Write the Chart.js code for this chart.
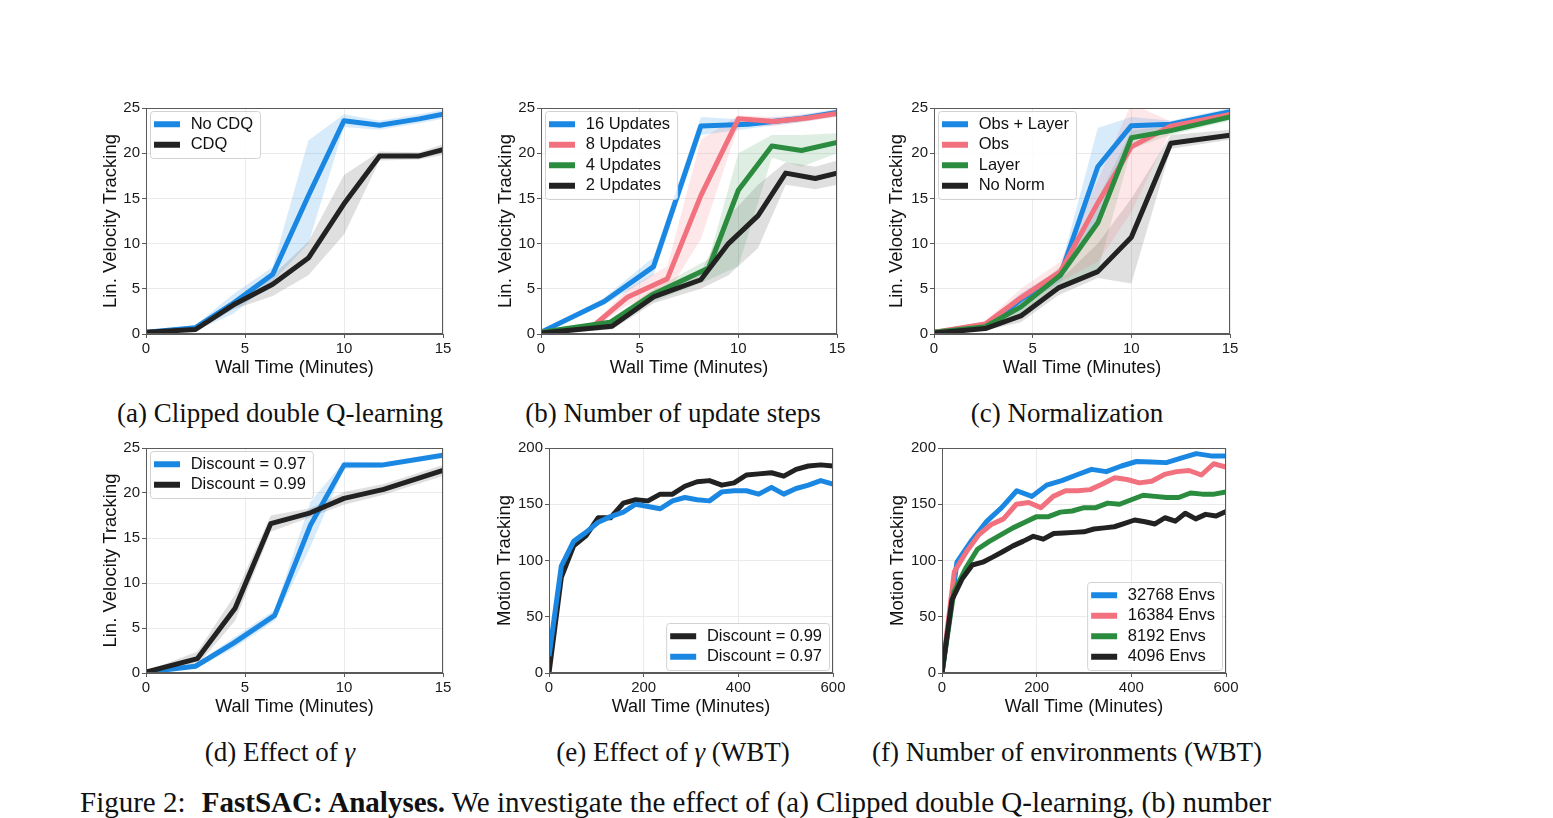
<!DOCTYPE html>
<html>
<head>
<meta charset="utf-8">
<script src="https://cdn.jsdelivr.net/npm/chart.js@4.4.1/dist/chart.umd.min.js"></script>
<style>
  body { margin: 0; background: #fff; }
  #page { position: relative; width: 1553px; height: 818px; overflow: hidden; background: #fff; }
  canvas { position: absolute; }
  .cap {
    position: absolute; transform: translate(-50%, -50%);
    font: 27px "Liberation Serif", "Times New Roman", serif;
    line-height: 1; white-space: nowrap; color: #111;
  }
  #fig {
    position: absolute; left: 80px; top: 788px;
    font: 29px "Liberation Serif", "Times New Roman", serif;
    line-height: 29px; white-space: nowrap; color: #111;
  }
  #fig .lead { margin-right: 9px; }
</style>
</head>
<body>
<div id="page">
  <canvas id="ca"></canvas>
  <canvas id="cb"></canvas>
  <canvas id="cc"></canvas>
  <canvas id="cd"></canvas>
  <canvas id="ce"></canvas>
  <canvas id="cf"></canvas>
  <div class="cap" style="left:280px;top:413px">(a) Clipped double Q-learning</div>
  <div class="cap" style="left:673px;top:413px">(b) Number of update steps</div>
  <div class="cap" style="left:1067px;top:413px">(c) Normalization</div>
  <div class="cap" style="left:280px;top:752px">(d) Effect of <i>γ</i></div>
  <div class="cap" style="left:673px;top:752px">(e) Effect of <i>γ</i> (WBT)</div>
  <div class="cap" style="left:1067px;top:752px">(f) Number of environments (WBT)</div>
  <div id="fig"><span class="lead">Figure 2:</span> <b>FastSAC: Analyses.</b> We investigate the effect of (a) Clipped double Q-learning, (b) number</div>
</div>
<script>
// ---- data ----
// (a) clipped double Q
const aX = [0, 2.5, 4.4, 6.4, 8.2, 10.0, 11.8, 13.8, 15];
const aNoCdq = [0.2, 0.7, 3.4, 6.6, 15.3, 23.6, 23.1, 23.8, 24.3];
const aNoCdqHi = [0.3, 1.0, 4.4, 7.4, 21.4, 24.3, 23.6, 24.3, 24.8];
const aNoCdqLo = [0.1, 0.4, 2.2, 5.8, 10.0, 22.9, 22.6, 23.3, 23.8];
const aCdq = [0.2, 0.5, 3.2, 5.5, 8.4, 14.4, 19.7, 19.7, 20.4];
const aCdqHi = [0.3, 0.7, 3.6, 6.5, 10.2, 17.6, 20.2, 20.1, 21.0];
const aCdqLo = [0.1, 0.3, 2.7, 4.2, 6.5, 11.0, 19.2, 19.3, 19.8];

// (b) update steps
const b16X = [0, 3.2, 5.7, 8.1, 10.5, 13.0, 15];
const b16 = [0.2, 3.6, 7.45, 23.0, 23.2, 23.8, 24.5];
const b16Hi = [0.3, 4.0, 8.5, 24.0, 23.7, 24.2, 24.9];
const b16Lo = [0.1, 3.2, 6.5, 22.0, 22.7, 23.4, 24.1];
const b8X = [0, 2.6, 4.4, 6.4, 8.1, 10.0, 11.8, 13.5, 15];
const b8 = [0.2, 0.8, 4.1, 6.1, 15.3, 23.8, 23.5, 23.9, 24.4];
const b8Hi = [0.3, 1.0, 5.0, 7.5, 21.5, 24.2, 24.0, 24.3, 24.8];
const b8Lo = [0.1, 0.6, 3.2, 4.5, 10.5, 23.0, 23.0, 23.5, 24.0];
const b4X = [0, 3.5, 5.6, 8.5, 10.0, 11.7, 13.2, 15];
const b4 = [0.2, 1.3, 4.3, 7.3, 15.9, 20.8, 20.3, 21.2];
const b4Hi = [0.3, 1.6, 4.8, 8.3, 20.0, 22.0, 22.0, 22.2];
const b4Lo = [0.1, 1.0, 3.5, 6.0, 7.5, 19.5, 18.5, 20.0];
const b2X = [0, 3.6, 5.7, 8.1, 9.5, 11.0, 12.4, 13.9, 15];
const b2 = [0.1, 0.85, 4.1, 6.0, 10.0, 13.1, 17.8, 17.2, 17.8];
const b2Hi = [0.2, 1.2, 4.8, 6.8, 13.0, 16.5, 19.0, 18.5, 19.2];
const b2Lo = [0.0, 0.5, 3.4, 5.0, 6.5, 9.5, 16.5, 16.0, 16.5];

// (c) normalization
const cX = [0, 2.6, 4.4, 6.4, 8.3, 10.0, 12.0, 15];
const cObsLayer = [0.2, 0.8, 3.8, 6.5, 18.5, 23.05, 23.2, 24.6];
const cObsLayerHi = [0.3, 1.1, 4.5, 7.2, 22.8, 24.0, 23.6, 25.0];
const cObsLayerLo = [0.1, 0.5, 3.0, 5.8, 12.0, 22.0, 22.8, 24.2];
const cObs = [0.2, 1.1, 4.0, 6.9, 14.5, 20.7, 23.0, 24.3];
const cObsHi = [0.3, 1.4, 5.0, 8.0, 17.0, 25.5, 23.5, 24.7];
const cObsLo = [0.1, 0.8, 3.0, 5.8, 8.0, 13.5, 22.5, 23.9];
const cLayer = [0.2, 0.8, 3.0, 6.5, 12.3, 21.7, 22.5, 24.0];
const cLayerHi = [0.3, 1.1, 3.8, 7.5, 15.0, 22.5, 23.0, 24.4];
const cLayerLo = [0.1, 0.5, 2.2, 5.5, 7.0, 20.5, 22.0, 23.6];
const cNoNormX = [0, 2.6, 4.4, 6.3, 8.3, 10.0, 12.0, 15];
const cNoNorm = [0.1, 0.6, 2.0, 5.1, 6.9, 10.7, 21.1, 22.0];
const cNoNormHi = [0.2, 0.9, 2.8, 5.8, 10.0, 15.0, 22.0, 22.6];
const cNoNormLo = [0.0, 0.4, 1.3, 4.3, 6.2, 5.6, 20.5, 21.5];

// (d) discount
const d97X = [0, 2.5, 4.4, 6.5, 8.3, 10.0, 11.9, 15];
const d97 = [0.1, 0.75, 3.3, 6.4, 16.4, 23.1, 23.1, 24.2];
const d97Hi = [0.2, 1.0, 3.9, 7.0, 19.0, 23.5, 23.4, 24.5];
const d97Lo = [0.0, 0.5, 2.7, 5.8, 14.0, 22.7, 22.8, 23.9];
const d99X = [0, 2.6, 4.5, 6.3, 8.3, 10.0, 12.0, 15];
const d99 = [0.1, 1.6, 7.2, 16.6, 17.8, 19.4, 20.4, 22.5];
const d99Hi = [0.2, 2.4, 8.7, 17.5, 18.3, 20.1, 21.0, 23.1];
const d99Lo = [0.0, 0.9, 5.8, 15.7, 17.3, 18.7, 19.8, 21.9];

// (e) discount, WBT
const eX = [0, 26, 52, 78, 104, 130, 157, 183, 209, 235, 261, 287, 313, 339, 365, 391, 417, 443, 470, 496, 522, 548, 574, 600];
const e99 = [0, 85, 113, 122, 138, 138, 151, 154, 153, 159, 159, 166, 170, 171, 167, 169, 176, 177, 178, 175, 181, 184, 185, 184];
const e97 = [15, 95, 117, 125, 134, 139, 143, 150, 148, 146, 153, 156, 154, 153, 161, 162, 162, 159, 165, 159, 164, 167, 171, 168];

// (f) number of envs, WBT
const f32768X = [0, 31.6, 63, 95, 126, 158, 190, 221, 253, 284, 316, 347, 379, 411, 442, 474, 505, 537, 568, 600];
const f32768 = [0, 98.5, 118, 135, 147, 162, 157, 167, 171, 176, 181, 179, 184, 188, 187.5, 187, 191, 195, 193, 193];
const f16384X = [0, 26, 52, 78, 104, 130, 157, 183, 209, 235, 261, 287, 313, 339, 365, 391, 417, 443, 470, 496, 522, 548, 574, 600];
const f16384 = [0, 90, 108, 123, 132, 137, 150, 151.5, 147, 157, 162, 162, 163, 168, 173.5, 172, 169, 170.5, 176.5, 179, 180, 176, 186, 183];
const f8192X = [0, 25, 50, 75, 100, 125, 150, 175, 200, 225, 250, 275, 300, 325, 350, 375, 400, 425, 450, 475, 500, 525, 550, 575, 600];
const f8192 = [0, 72, 93, 110, 117, 123, 129, 134, 139, 139, 143, 144, 147, 147, 151, 150, 154, 158, 157, 156, 156, 160, 159, 159, 161];
const f4096X = [0, 21, 43, 64, 86, 107, 129, 150, 171, 193, 214, 236, 257, 279, 300, 321, 343, 364, 386, 407, 429, 450, 471, 493, 514, 536, 557, 579, 600];
const f4096 = [0, 65, 84, 96, 98.5, 103, 108, 113, 117, 121.5, 119, 124, 124.5, 125, 125.5, 128, 129, 130, 133, 136, 134.5, 132.5, 138, 135, 142, 137, 141, 139.5, 143.5];

const linTicks = [0, 5, 10, 15, 20, 25];
const motionTicks = [0, 50, 100, 150, 200];
const minTicks = [0, 5, 10, 15];
const wbtTicks = [0, 200, 400, 600];

// ---- styling ----
const BLUE = "#1a88e3";
const PINK = "#f2717f";
const GREEN = "#2b8c3f";
const BLACK = "#222222";
const BAND = {
  [BLUE]: "rgba(26,136,227,0.17)",
  [PINK]: "rgba(242,113,127,0.17)",
  [GREEN]: "rgba(43,140,63,0.15)",
  [BLACK]: "rgba(40,40,40,0.15)",
};

Chart.defaults.font.family = '"Liberation Sans", Arial, sans-serif';
Chart.defaults.color = "#1a1a1a";

const pts = (xs, ys) => xs.map((x, i) => ({ x: x, y: ys[i] }));

const framePlugin = {
  id: "frame",
  afterDatasetsDraw(chart, args, opts) {
    const { ctx, chartArea: a } = chart;
    ctx.save();
    ctx.strokeStyle = "#5a5a5a";
    ctx.lineWidth = 1;
    ctx.strokeRect(a.left + 0.5, a.top + 0.5, a.right - a.left - 1, a.bottom - a.top - 1);

    // legend box, matplotlib style
    const items = chart.data.datasets.filter((d) => d.label && !d.band);
    ctx.font = '16.5px "Liberation Sans", Arial, sans-serif';
    const rowH = 20.5, pad = 3;
    const textW = Math.max(...items.map((d) => ctx.measureText(d.label).width));
    const w = 40.7 + textW + 7;
    const h = items.length * rowH + 2 * pad;
    let x = a.left + 4, y = a.top + 3;
    if (opts.corner === "br") {
      x = a.right - 4 - w;
      y = a.bottom - 3 - h;
    }
    ctx.beginPath();
    ctx.roundRect(x + 0.5, y + 0.5, w, h, 3);
    ctx.fillStyle = "rgba(255,255,255,0.85)";
    ctx.fill();
    ctx.strokeStyle = "#d2d2d2";
    ctx.stroke();
    items.forEach((d, i) => {
      const cy = y + pad + rowH * (i + 0.5);
      ctx.strokeStyle = d.borderColor;
      ctx.lineWidth = 6;
      ctx.beginPath();
      ctx.moveTo(x + 4, cy);
      ctx.lineTo(x + 30, cy);
      ctx.stroke();
      ctx.fillStyle = "#111";
      ctx.textBaseline = "middle";
      ctx.fillText(d.label, x + 40.7, cy);
    });
    ctx.restore();
  },
};

function makeChart(id, box, cfg) {
  const canvas = document.getElementById(id);
  const padTop = 10, padRight = 16, bottomH = 49;
  canvas.width = box.leftW + box.w + padRight;
  canvas.height = padTop + box.h + bottomH;
  canvas.style.left = box.l - box.leftW + "px";
  canvas.style.top = box.t - padTop + "px";

  const n = cfg.series.length;
  const datasets = cfg.series.map((s, i) => ({
    label: s.label,
    data: pts(s.x, s.y),
    borderColor: s.color,
    borderWidth: 5,
    pointRadius: 0,
    tension: 0,
    fill: false,
    borderJoinStyle: "round",
    order: n - i,
  }));
  cfg.series.forEach((s) => {
    if (!s.hi) return;
    datasets.push({
      band: true,
      data: pts(s.x, s.hi),
      borderWidth: 0,
      pointRadius: 0,
      fill: "+1",
      backgroundColor: BAND[s.color],
      order: 100,
    });
    datasets.push({
      band: true,
      data: pts(s.x, s.lo),
      borderWidth: 0,
      pointRadius: 0,
      fill: false,
      order: 100,
    });
  });

  const tickFont = { size: 15 };
  const gridOpts = { color: "#ebebeb", tickColor: "#5a5a5a", tickLength: 4 };
  new Chart(canvas, {
    type: "line",
    data: { datasets: datasets },
    plugins: [framePlugin],
    options: {
      responsive: false,
      animation: false,
      layout: { padding: { top: padTop, right: padRight, left: 0, bottom: 0 } },
      plugins: {
        legend: { display: false },
        tooltip: { enabled: false },
        frame: { corner: cfg.corner },
      },
      scales: {
        x: {
          type: "linear",
          min: 0,
          max: cfg.xTicks[cfg.xTicks.length - 1],
          afterBuildTicks: (s) => { s.ticks = cfg.xTicks.map((v) => ({ value: v })); },
          ticks: { font: tickFont, padding: 2, maxRotation: 0, color: "#1a1a1a" },
          grid: gridOpts,
          border: { color: "#5a5a5a" },
          title: {
            display: true, text: "Wall Time (Minutes)", color: "#111",
            font: { size: 18 }, padding: { top: 4, bottom: 4 },
          },
          afterFit: (s) => { s.height = bottomH; },
        },
        y: {
          min: 0,
          max: cfg.yTicks[cfg.yTicks.length - 1],
          afterBuildTicks: (s) => { s.ticks = cfg.yTicks.map((v) => ({ value: v })); },
          ticks: { font: tickFont, padding: 2, color: "#1a1a1a" },
          grid: gridOpts,
          border: { color: "#5a5a5a" },
          title: {
            display: true, text: cfg.yTitle, color: "#111",
            font: { size: 18.5 }, padding: { top: 4, bottom: 4 },
          },
          afterFit: (s) => { s.width = box.leftW; },
        },
      },
    },
  });
}

makeChart("ca", { l: 146, t: 107, w: 297, h: 227, leftW: 50 }, {
  xTicks: minTicks, yTicks: linTicks, yTitle: "Lin. Velocity Tracking", corner: "tl",
  series: [
    { label: "No CDQ", color: BLUE, x: aX, y: aNoCdq, hi: aNoCdqHi, lo: aNoCdqLo },
    { label: "CDQ", color: BLACK, x: aX, y: aCdq, hi: aCdqHi, lo: aCdqLo },
  ],
});

makeChart("cb", { l: 541, t: 107, w: 296, h: 227, leftW: 50 }, {
  xTicks: minTicks, yTicks: linTicks, yTitle: "Lin. Velocity Tracking", corner: "tl",
  series: [
    { label: "16 Updates", color: BLUE, x: b16X, y: b16, hi: b16Hi, lo: b16Lo },
    { label: "8 Updates", color: PINK, x: b8X, y: b8, hi: b8Hi, lo: b8Lo },
    { label: "4 Updates", color: GREEN, x: b4X, y: b4, hi: b4Hi, lo: b4Lo },
    { label: "2 Updates", color: BLACK, x: b2X, y: b2, hi: b2Hi, lo: b2Lo },
  ],
});

makeChart("cc", { l: 934, t: 107, w: 296, h: 227, leftW: 52 }, {
  xTicks: minTicks, yTicks: linTicks, yTitle: "Lin. Velocity Tracking", corner: "tl",
  series: [
    { label: "Obs + Layer", color: BLUE, x: cX, y: cObsLayer, hi: cObsLayerHi, lo: cObsLayerLo },
    { label: "Obs", color: PINK, x: cX, y: cObs, hi: cObsHi, lo: cObsLo },
    { label: "Layer", color: GREEN, x: cX, y: cLayer, hi: cLayerHi, lo: cLayerLo },
    { label: "No Norm", color: BLACK, x: cNoNormX, y: cNoNorm, hi: cNoNormHi, lo: cNoNormLo },
  ],
});

makeChart("cd", { l: 146, t: 447, w: 297, h: 226, leftW: 50 }, {
  xTicks: minTicks, yTicks: linTicks, yTitle: "Lin. Velocity Tracking", corner: "tl",
  series: [
    { label: "Discount = 0.97", color: BLUE, x: d97X, y: d97, hi: d97Hi, lo: d97Lo },
    { label: "Discount = 0.99", color: BLACK, x: d99X, y: d99, hi: d99Hi, lo: d99Lo },
  ],
});

makeChart("ce", { l: 549, t: 447, w: 284, h: 226, leftW: 59 }, {
  xTicks: wbtTicks, yTicks: motionTicks, yTitle: "Motion Tracking", corner: "br",
  series: [
    { label: "Discount = 0.99", color: BLACK, x: eX, y: e99 },
    { label: "Discount = 0.97", color: BLUE, x: eX, y: e97 },
  ],
});

makeChart("cf", { l: 942, t: 447, w: 284, h: 226, leftW: 59 }, {
  xTicks: wbtTicks, yTicks: motionTicks, yTitle: "Motion Tracking", corner: "br",
  series: [
    { label: "32768 Envs", color: BLUE, x: f32768X, y: f32768 },
    { label: "16384 Envs", color: PINK, x: f16384X, y: f16384 },
    { label: "8192 Envs", color: GREEN, x: f8192X, y: f8192 },
    { label: "4096 Envs", color: BLACK, x: f4096X, y: f4096 },
  ],
});
</script>
</body>
</html>
